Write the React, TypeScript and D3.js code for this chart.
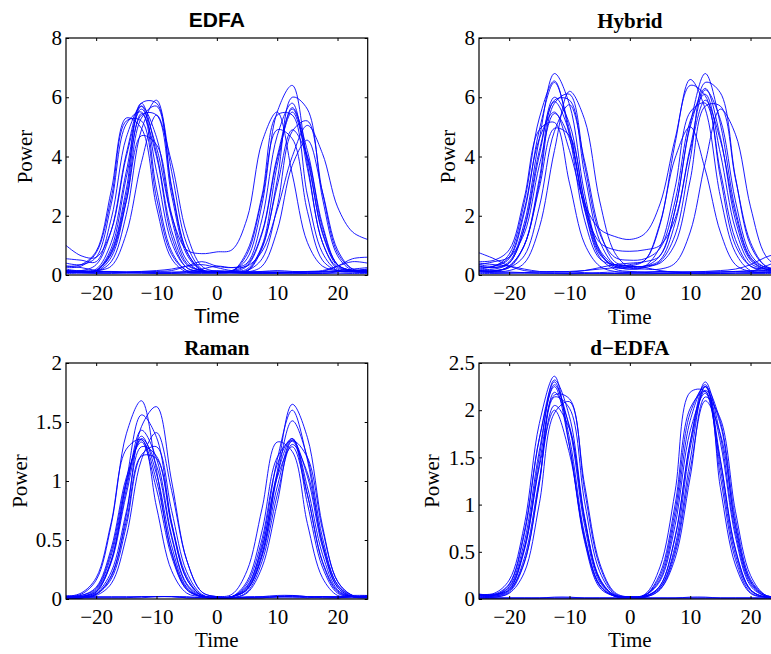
import React, { useEffect, useRef } from 'react';
import * as d3 from 'd3';

// sample times shared by every trace
const times = [-25, -22.5, -20, -17.5, -15, -12.5, -10, -7.5, -5, -2.5, 0, 2.5, 5, 7.5, 10, 12.5, 15, 17.5, 20, 22.5, 25];
const xTicks = [-20, -10, 0, 10, 20];
const edfaTicks = [0, 2, 4, 6, 8];
const hybridTicks = [0, 2, 4, 6, 8];
const ramanTicks = [0, 0.5, 1, 1.5, 2];
const dEdfaTicks = [0, 0.5, 1, 1.5, 2, 2.5];

const edfaTraces = [
    [0.2, 0.15, 0.35, 1.5, 4.1, 5.8, 4.1, 1.5, 0.35, 0.15, 0.12, 0.15, 0.35, 1.45, 4.0, 5.6, 4.0, 1.45, 0.35, 0.15, 0.15],
    [0.1, 0.1, 0.15, 0.8, 2.9, 5.8, 5.8, 2.9, 0.8, 0.18, 0.1, 0.15, 0.55, 2.4, 5.5, 6.4, 3.75, 1.1, 0.25, 0.15, 0.2],
    [0.15, 0.12, 0.15, 0.3, 1.4, 3.8, 5.4, 3.8, 1.4, 0.3, 0.12, 0.1, 0.12, 0.9, 3.2, 6.0, 5.6, 2.6, 0.65, 0.15, 0.12],
    [1.0, 0.65, 0.6, 1.5, 4.0, 5.6, 4.3, 2.0, 0.85, 0.72, 0.78, 0.85, 1.9, 4.5, 5.5, 3.4, 1.1, 0.3, 0.15, 0.12, 0.12],
    [0.25, 0.3, 0.75, 2.6, 5.2, 5.2, 2.6, 0.7, 0.15, 0.1, 0.1, 0.08, 0.08, 0.1, 0.1, 0.08, 0.1, 0.1, 0.12, 0.1, 0.1],
    [0.3, 0.25, 0.15, 0.1, 0.1, 0.1, 0.1, 0.1, 0.12, 0.2, 0.3, 0.25, 0.3, 0.8, 2.2, 4.0, 5.05, 4.1, 2.3, 1.45, 1.2],
    [0.12, 0.1, 0.15, 0.75, 2.7, 5.4, 5.4, 2.7, 0.7, 0.15, 0.12, 0.12, 0.3, 1.4, 3.9, 5.5, 3.9, 1.4, 0.3, 0.12, 0.1],
    [0.1, 0.1, 0.12, 0.45, 2.05, 4.9, 5.9, 3.5, 1.05, 0.2, 0.1, 0.12, 0.8, 2.7, 5.4, 5.4, 2.7, 0.75, 0.15, 0.1, 0.1],
    [0.15, 0.15, 0.2, 1.1, 3.5, 5.7, 4.65, 1.9, 0.4, 0.15, 0.1, 0.1, 0.15, 0.55, 2.3, 4.85, 5.2, 2.8, 0.75, 0.2, 0.15],
    [0.55, 0.5, 0.45, 1.9, 4.65, 5.7, 3.5, 1.1, 0.25, 0.12, 0.1, 0.1, 0.1, 0.1, 0.1, 0.1, 0.1, 0.12, 0.15, 0.2, 0.25],
    [0.1, 0.1, 0.15, 0.7, 2.5, 4.7, 4.4, 2.05, 0.5, 0.12, 0.1, 0.1, 0.15, 0.95, 3.0, 4.9, 4.0, 1.6, 0.35, 0.15, 0.12],
    [0.3, 0.35, 0.8, 2.85, 5.3, 4.95, 2.3, 0.55, 0.1, 0.08, 0.1, 0.12, 0.7, 2.6, 4.9, 4.6, 2.15, 0.5, 0.15, 0.12, 0.1],
    [0.12, 0.1, 0.12, 0.6, 2.5, 5.3, 5.7, 3.0, 0.8, 0.15, 0.1, 0.1, 0.1, 0.3, 1.5, 3.7, 4.55, 2.8, 0.85, 0.2, 0.15],
    [0.15, 0.1, 0.1, 0.1, 0.08, 0.1, 0.12, 0.15, 0.3, 0.45, 0.3, 0.25, 0.4, 1.9, 4.7, 5.8, 3.6, 1.1, 0.2, 0.12, 0.1],
    [0.1, 0.1, 0.15, 0.9, 3.3, 5.45, 4.0, 1.3, 0.25, 0.12, 0.1, 0.08, 0.08, 0.08, 0.08, 0.1, 0.12, 0.15, 0.3, 0.55, 0.6],
    [0.05, 0.06, 0.05, 0.05, 0.06, 0.07, 0.06, 0.05, 0.04, 0.05, 0.05, 0.06, 0.05, 0.05, 0.05, 0.04, 0.05, 0.05, 0.06, 0.05, 0.05],
    [0.15, 0.12, 0.12, 0.12, 0.1, 0.1, 0.08, 0.08, 0.1, 0.12, 0.15, 0.12, 0.1, 0.1, 0.08, 0.06, 0.05, 0.06, 0.1, 0.15, 0.2],
    [0.08, 0.1, 0.12, 0.1, 0.08, 0.06, 0.05, 0.06, 0.08, 0.1, 0.1, 0.08, 0.06, 0.05, 0.06, 0.08, 0.1, 0.12, 0.3, 0.45, 0.4],
    [0.4, 0.35, 0.6, 2.4, 5.1, 5.5, 2.9, 0.8, 0.15, 0.1, 0.08, 0.08, 0.1, 0.12, 0.15, 0.12, 0.1, 0.1, 0.12, 0.15, 0.15],
    [0.1, 0.08, 0.08, 0.1, 0.1, 0.12, 0.15, 0.2, 0.3, 0.35, 0.25, 0.15, 0.2, 1.0, 3.7, 5.65, 4.2, 1.7, 0.35, 0.15, 0.1]
];

const hybridTraces = [
    [0.3, 0.25, 0.45, 1.75, 4.6, 6.8, 5.75, 2.75, 0.85, 0.35, 0.3, 0.3, 0.65, 2.2, 5.1, 6.8, 5.1, 2.2, 0.6, 0.25, 0.2],
    [0.15, 0.12, 0.15, 0.4, 1.6, 4.2, 6.2, 5.25, 2.5, 0.75, 0.25, 0.2, 0.2, 0.4, 1.45, 3.8, 5.6, 4.75, 2.3, 0.65, 0.2],
    [0.2, 0.3, 0.6, 2.2, 4.6, 5.5, 4.2, 2.4, 1.55, 1.3, 1.2, 1.4, 2.4, 4.6, 6.4, 6.05, 3.3, 1.0, 0.3, 0.2, 0.2],
    [0.35, 0.3, 0.55, 2.1, 4.9, 6.5, 4.9, 2.3, 1.1, 0.85, 0.8, 0.85, 1.0, 1.9, 4.3, 6.25, 5.25, 2.5, 0.7, 0.25, 0.2],
    [0.15, 0.15, 0.25, 1.0, 3.1, 5.8, 6.1, 3.7, 1.4, 0.6, 0.5, 0.55, 0.9, 2.5, 5.2, 6.1, 4.1, 1.55, 0.4, 0.2, 0.15],
    [0.45, 0.5, 0.85, 2.6, 4.9, 5.15, 3.1, 1.05, 0.3, 0.12, 0.1, 0.1, 0.1, 0.1, 0.1, 0.1, 0.1, 0.12, 0.15, 0.15, 0.15],
    [0.75, 0.55, 0.3, 0.15, 0.1, 0.1, 0.12, 0.15, 0.2, 0.25, 0.35, 0.5, 1.7, 4.45, 6.6, 5.6, 2.65, 0.75, 0.15, 0.1, 0.1],
    [0.2, 0.2, 0.4, 1.55, 4.05, 6.0, 5.1, 2.45, 0.75, 0.3, 0.2, 0.25, 0.45, 1.35, 3.9, 6.5, 6.15, 3.3, 1.0, 0.3, 0.2],
    [0.1, 0.12, 0.3, 1.0, 2.95, 4.95, 4.7, 2.5, 0.8, 0.25, 0.3, 0.5, 1.75, 3.95, 5.0, 3.55, 1.45, 0.35, 0.12, 0.1, 0.1],
    [0.25, 0.3, 0.7, 2.45, 5.3, 6.55, 4.7, 1.85, 0.55, 0.35, 0.3, 0.25, 0.15, 0.1, 0.1, 0.1, 0.1, 0.1, 0.12, 0.3, 0.5],
    [0.15, 0.15, 0.25, 0.65, 2.3, 4.85, 5.75, 3.85, 1.5, 0.45, 0.3, 0.3, 0.5, 1.75, 4.2, 5.9, 4.55, 2.05, 0.55, 0.2, 0.15],
    [0.4, 0.35, 0.3, 0.2, 0.12, 0.1, 0.1, 0.15, 0.25, 0.35, 0.4, 0.45, 0.65, 2.2, 5.0, 6.3, 4.65, 1.85, 0.5, 0.2, 0.15],
    [0.3, 0.25, 0.4, 1.6, 4.2, 5.85, 4.8, 2.25, 0.7, 0.3, 0.2, 0.3, 0.95, 2.95, 5.5, 5.8, 3.5, 1.2, 0.3, 0.15, 0.1],
    [0.1, 0.08, 0.07, 0.06, 0.06, 0.06, 0.05, 0.06, 0.08, 0.1, 0.08, 0.06, 0.05, 0.05, 0.06, 0.08, 0.1, 0.12, 0.1, 0.08, 0.08],
    [0.05, 0.05, 0.06, 0.08, 0.1, 0.12, 0.1, 0.08, 0.05, 0.05, 0.06, 0.08, 0.12, 0.1, 0.06, 0.05, 0.05, 0.06, 0.08, 0.1, 0.12],
    [0.12, 0.1, 0.1, 0.08, 0.06, 0.05, 0.04, 0.05, 0.06, 0.05, 0.04, 0.04, 0.05, 0.06, 0.05, 0.04, 0.05, 0.06, 0.05, 0.05, 0.06],
    [0.35, 0.45, 0.6, 1.4, 3.7, 5.45, 4.6, 2.2, 0.6, 0.2, 0.12, 0.1, 0.1, 0.1, 0.1, 0.12, 0.15, 0.2, 0.35, 0.6, 0.75],
    [0.15, 0.12, 0.3, 1.0, 3.25, 5.9, 5.9, 3.4, 1.15, 0.35, 0.25, 0.3, 0.4, 1.05, 3.2, 5.7, 5.7, 3.25, 1.1, 0.3, 0.15]
];

const ramanTraces = [
    [0.02, 0.04, 0.16, 0.63, 1.4, 1.68, 1.09, 0.39, 0.08, 0.02, 0.01, 0.02, 0.08, 0.38, 1.08, 1.65, 1.37, 0.62, 0.15, 0.03, 0.02],
    [0.01, 0.01, 0.04, 0.19, 0.71, 1.46, 1.63, 1.0, 0.33, 0.06, 0.02, 0.02, 0.1, 0.47, 1.18, 1.6, 1.18, 0.47, 0.1, 0.02, 0.02],
    [0.02, 0.02, 0.06, 0.32, 1.0, 1.56, 1.37, 0.65, 0.17, 0.03, 0.02, 0.02, 0.08, 0.38, 1.04, 1.51, 1.2, 0.52, 0.12, 0.03, 0.02],
    [0.02, 0.02, 0.07, 0.33, 0.93, 1.43, 1.19, 0.54, 0.13, 0.03, 0.02, 0.04, 0.24, 0.77, 1.33, 1.25, 0.64, 0.18, 0.03, 0.02, 0.02],
    [0.02, 0.05, 0.18, 0.65, 1.27, 1.35, 0.78, 0.24, 0.05, 0.02, 0.01, 0.01, 0.01, 0.01, 0.01, 0.01, 0.01, 0.02, 0.02, 0.02, 0.02],
    [0.01, 0.01, 0.03, 0.13, 0.53, 1.18, 1.41, 0.92, 0.33, 0.06, 0.02, 0.02, 0.13, 0.51, 1.14, 1.36, 0.89, 0.31, 0.06, 0.02, 0.01],
    [0.02, 0.02, 0.08, 0.37, 0.97, 1.38, 1.06, 0.45, 0.1, 0.02, 0.01, 0.02, 0.08, 0.36, 0.95, 1.35, 1.04, 0.44, 0.1, 0.02, 0.02],
    [0.01, 0.01, 0.05, 0.23, 0.74, 1.29, 1.21, 0.62, 0.17, 0.03, 0.01, 0.01, 0.05, 0.27, 0.81, 1.34, 1.2, 0.59, 0.15, 0.03, 0.02],
    [0.02, 0.03, 0.1, 0.43, 1.03, 1.33, 0.93, 0.36, 0.08, 0.02, 0.01, 0.02, 0.15, 0.58, 1.2, 1.34, 0.81, 0.27, 0.05, 0.02, 0.02],
    [0.02, 0.02, 0.02, 0.02, 0.02, 0.02, 0.02, 0.02, 0.01, 0.01, 0.01, 0.01, 0.01, 0.02, 0.03, 0.03, 0.02, 0.02, 0.01, 0.02, 0.03],
    [0.01, 0.01, 0.01, 0.01, 0.01, 0.01, 0.02, 0.02, 0.02, 0.01, 0.01, 0.01, 0.01, 0.01, 0.02, 0.02, 0.01, 0.01, 0.01, 0.02, 0.02],
    [0.01, 0.01, 0.04, 0.17, 0.62, 1.22, 1.29, 0.75, 0.23, 0.04, 0.01, 0.01, 0.01, 0.01, 0.02, 0.02, 0.02, 0.01, 0.01, 0.01, 0.01],
    [0.02, 0.01, 0.01, 0.01, 0.01, 0.02, 0.02, 0.02, 0.01, 0.01, 0.01, 0.02, 0.11, 0.44, 1.03, 1.29, 0.88, 0.32, 0.07, 0.02, 0.02],
    [0.02, 0.02, 0.06, 0.31, 0.89, 1.36, 1.13, 0.52, 0.12, 0.02, 0.01, 0.02, 0.09, 0.42, 1.06, 1.36, 0.95, 0.38, 0.08, 0.02, 0.02],
    [0.01, 0.01, 0.04, 0.2, 0.66, 1.21, 1.19, 0.64, 0.19, 0.03, 0.01, 0.01, 0.06, 0.32, 0.88, 1.31, 1.07, 0.47, 0.12, 0.02, 0.01],
    [0.03, 0.03, 0.09, 0.4, 1.0, 1.35, 1.0, 0.4, 0.09, 0.02, 0.01, 0.01, 0.02, 0.02, 0.02, 0.03, 0.02, 0.02, 0.02, 0.03, 0.03]
];

const dEdfaTraces = [
    [0.04, 0.04, 0.1, 0.54, 1.51, 2.32, 1.93, 0.87, 0.21, 0.04, 0.02, 0.04, 0.21, 0.86, 1.89, 2.27, 1.48, 0.52, 0.1, 0.02, 0.01],
    [0.05, 0.04, 0.15, 0.68, 1.7, 2.3, 1.7, 0.68, 0.15, 0.03, 0.02, 0.03, 0.14, 0.66, 1.66, 2.25, 1.66, 0.66, 0.14, 0.03, 0.02],
    [0.03, 0.03, 0.09, 0.39, 1.24, 2.14, 2.02, 1.03, 0.29, 0.05, 0.02, 0.03, 0.12, 0.52, 1.47, 2.25, 1.88, 0.85, 0.21, 0.04, 0.02],
    [0.05, 0.06, 0.2, 0.78, 1.86, 2.36, 1.62, 0.61, 0.12, 0.03, 0.02, 0.05, 0.34, 1.14, 2.19, 2.2, 1.18, 0.36, 0.06, 0.02, 0.02],
    [0.02, 0.02, 0.06, 0.28, 1.01, 1.97, 2.09, 1.21, 0.38, 0.07, 0.02, 0.03, 0.12, 0.56, 1.6, 2.21, 1.85, 0.76, 0.18, 0.03, 0.02],
    [0.04, 0.04, 0.13, 0.6, 1.57, 2.27, 1.81, 0.78, 0.18, 0.04, 0.02, 0.04, 0.24, 0.93, 1.97, 2.25, 1.39, 0.47, 0.09, 0.02, 0.02],
    [0.03, 0.03, 0.08, 0.43, 1.27, 2.05, 1.8, 0.85, 0.22, 0.04, 0.02, 0.02, 0.1, 0.43, 1.29, 2.14, 1.91, 0.93, 0.25, 0.04, 0.02],
    [0.04, 0.04, 0.12, 0.53, 1.4, 2.0, 1.54, 0.65, 0.15, 0.03, 0.02, 0.04, 0.19, 0.78, 1.78, 2.18, 1.46, 0.53, 0.1, 0.02, 0.02],
    [0.05, 0.05, 0.1, 0.51, 1.43, 2.19, 1.83, 0.83, 0.2, 0.03, 0.02, 0.01, 0.01, 0.01, 0.01, 0.01, 0.01, 0.01, 0.01, 0.01, 0.01],
    [0.01, 0.01, 0.01, 0.01, 0.01, 0.01, 0.01, 0.01, 0.01, 0.01, 0.01, 0.02, 0.14, 0.65, 1.66, 2.3, 1.73, 0.71, 0.16, 0.03, 0.02],
    [0.01, 0.01, 0.01, 0.01, 0.01, 0.02, 0.02, 0.01, 0.01, 0.01, 0.01, 0.01, 0.01, 0.01, 0.01, 0.01, 0.01, 0.01, 0.01, 0.01, 0.01],
    [0.01, 0.01, 0.01, 0.01, 0.01, 0.01, 0.01, 0.01, 0.01, 0.01, 0.01, 0.01, 0.01, 0.01, 0.02, 0.02, 0.01, 0.01, 0.01, 0.01, 0.01],
    [0.02, 0.02, 0.07, 0.38, 1.22, 2.16, 2.12, 1.15, 0.35, 0.06, 0.02, 0.04, 0.27, 1.0, 2.02, 2.2, 1.3, 0.42, 0.07, 0.02, 0.02],
    [0.05, 0.05, 0.16, 0.71, 1.7, 2.25, 1.62, 0.63, 0.14, 0.03, 0.02, 0.02, 0.1, 0.48, 1.37, 2.1, 1.75, 0.79, 0.19, 0.04, 0.02]
];

const SERIF = '"Liberation Serif", "Times New Roman", serif';
const SANS = '"Liberation Sans", Arial, sans-serif';

const fmt = (d) => (d < 0 ? '\u2212' + Math.abs(d) : String(d));

export default function App() {
    const svgRef = useRef(null);

    useEffect(() => {
        const svg = d3.select(svgRef.current);
        svg.selectAll('*').remove();

        const panels = [
            { title: 'EDFA', traces: edfaTraces, yMax: 8, yTicks: edfaTicks, left: 66, top: 38, bottom: 275, sans: true, titleY: 27, timeY: 323, powerX: 31.5 },
            { title: 'Hybrid', traces: hybridTraces, yMax: 8, yTicks: hybridTicks, left: 479, top: 38, bottom: 275, sans: false, titleY: 28, timeY: 324, powerX: 455 },
            { title: 'Raman', traces: ramanTraces, yMax: 2, yTicks: ramanTicks, left: 66, top: 363, bottom: 599, sans: false, titleY: 355, timeY: 647, powerX: 27 },
            { title: 'd\u2212EDFA', traces: dEdfaTraces, yMax: 2.5, yTicks: dEdfaTicks, left: 479, top: 363, bottom: 599, sans: false, titleY: 355, timeY: 647, powerX: 439 }
        ];

        const width = 301.7;

        panels.forEach((p, i) => {
            const height = p.bottom - p.top;
            const x = d3.scaleLinear().domain([-25, 25]).range([0, width]);
            const y = d3.scaleLinear().domain([0, p.yMax]).range([height, 0]);

            const g = svg.append('g').attr('transform', `translate(${p.left},${p.top})`);

            const clipId = `clip-${i}`;
            g.append('clipPath').attr('id', clipId)
                .append('rect').attr('width', width).attr('height', height);

            const line = d3.line()
                .x((_, j) => x(times[j]))
                .y((d) => y(d))
                .curve(d3.curveCatmullRom);

            g.append('g')
                .attr('clip-path', `url(#${clipId})`)
                .selectAll('path')
                .data(p.traces)
                .join('path')
                .attr('d', line)
                .attr('fill', 'none')
                .attr('stroke', '#0000ff')
                .attr('stroke-width', 0.9);

            const styleAxis = (sel) => {
                sel.select('.domain').remove();
                sel.selectAll('line').attr('stroke', '#000');
                sel.selectAll('text')
                    .attr('font-family', SERIF)
                    .attr('font-size', 21)
                    .attr('fill', '#000');
            };

            g.append('g')
                .attr('transform', `translate(0,${height})`)
                .call(d3.axisBottom(x).tickValues(xTicks).tickFormat(fmt).tickSize(-3).tickPadding(10))
                .call(styleAxis);
            g.append('g')
                .call(d3.axisTop(x).tickValues(xTicks).tickFormat(() => '').tickSize(-3))
                .call(styleAxis);
            g.append('g')
                .call(d3.axisLeft(y).tickValues(p.yTicks).tickFormat(fmt).tickSize(-3).tickPadding(4))
                .call(styleAxis);
            g.append('g')
                .attr('transform', `translate(${width},0)`)
                .call(d3.axisRight(y).tickValues(p.yTicks).tickFormat(() => '').tickSize(-3))
                .call(styleAxis);

            g.append('rect')
                .attr('width', width)
                .attr('height', height)
                .attr('fill', 'none')
                .attr('stroke', '#000')
                .attr('stroke-width', 1.2);

            // title + labels
            svg.append('text')
                .attr('x', p.left + width / 2)
                .attr('y', p.titleY)
                .attr('text-anchor', 'middle')
                .attr('font-family', p.sans ? SANS : SERIF)
                .attr('font-weight', 'bold')
                .attr('font-size', 21)
                .text(p.title);

            svg.append('text')
                .attr('x', p.left + width / 2)
                .attr('y', p.timeY)
                .attr('text-anchor', 'middle')
                .attr('font-family', p.sans ? SANS : SERIF)
                .attr('font-size', 21)
                .text('Time');

            svg.append('text')
                .attr('transform', `translate(${p.powerX},${p.top + height / 2}) rotate(-90)`)
                .attr('text-anchor', 'middle')
                .attr('font-family', SERIF)
                .attr('font-size', 21)
                .text('Power');
        });
    }, []);

    return (
        <svg
            ref={svgRef}
            width={771}
            height={654}
            style={{ position: 'absolute', left: 0, top: 0, background: '#fff' }}
        />
    );
}
